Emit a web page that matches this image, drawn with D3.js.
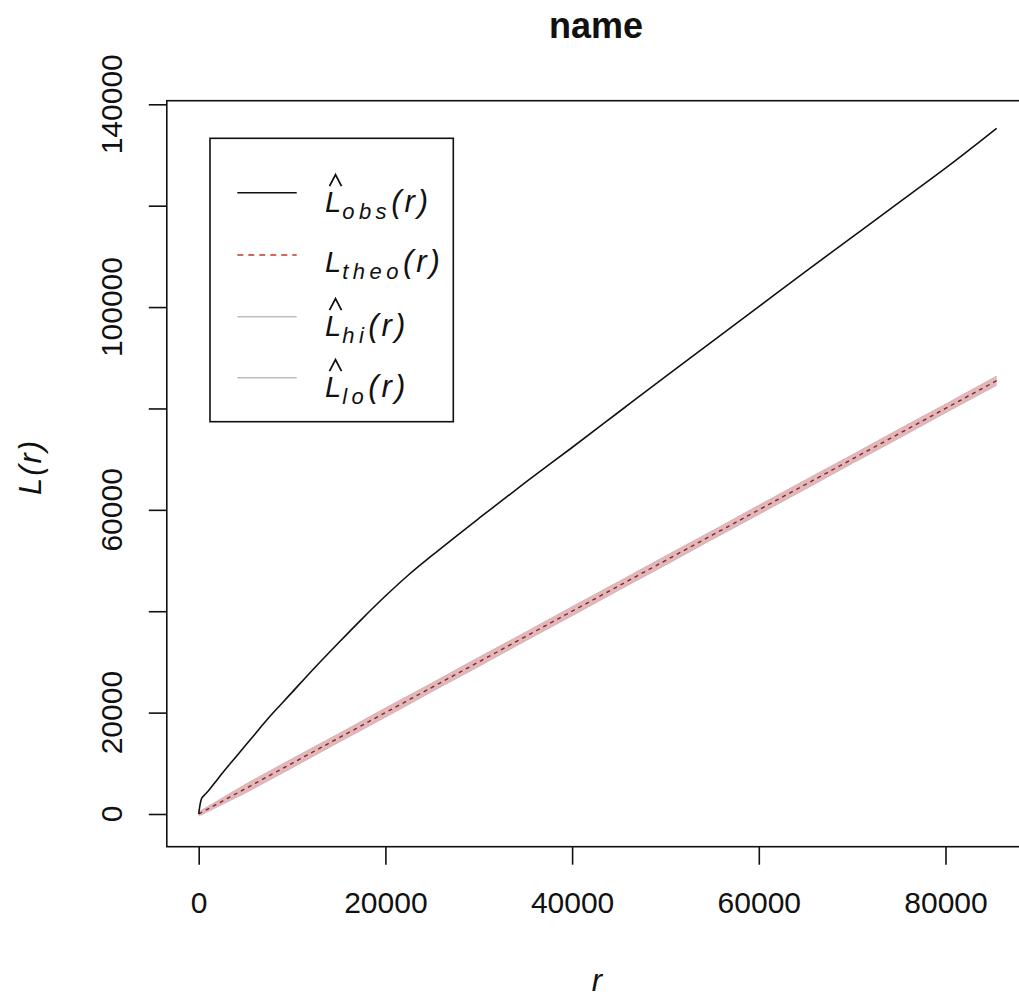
<!DOCTYPE html>
<html>
<head>
<meta charset="utf-8">
<script src="https://cdn.jsdelivr.net/npm/d3@7"></script>
<style>
  body { margin: 0; background: #fff; }
  svg { display: block; }
  text { font-family: "Liberation Sans", Arial, sans-serif; fill: #111; }
</style>
</head>
<body>
<svg id="chart" width="1019" height="998"></svg>
<script>
// Observed L-function estimate
const obsR = [0, 150, 300, 600, 1000, 1700, 2500, 3500, 5000, 6500, 7500, 9000, 10000,
  12500, 15000, 17500, 20000, 22500, 25000, 30000, 35000, 40000, 45000, 50000, 55000,
  60000, 65000, 70000, 75000, 78270, 80000, 85480];
const obsL = [0, 1900, 3000, 3700, 4500, 6100, 8000, 10200, 13500, 16800, 19000, 22000, 24000,
  29000, 33800, 38500, 43000, 47200, 51000, 58300, 65400, 72300, 79300, 86300, 93200,
  100100, 107000, 113800, 120600, 125050, 127400, 135250];

// Theoretical value and simulation envelope
const envR  = [0, 5000, 10000, 15000, 20000, 25000, 30000, 35000, 40000, 45000, 50000,
  55000, 60000, 65000, 70000, 75000, 80000, 85000, 85480];
const theoL = [0, 5000, 10000, 15000, 20000, 25000, 30000, 35000, 40000, 45000, 50000,
  55000, 60000, 65000, 70000, 75000, 80000, 85000, 85480];
const hiL = [400, 5850, 10900, 15850, 20900, 25850, 30900, 35850, 40900, 45850, 50900,
  55850, 60900, 65900, 70850, 75900, 80850, 85900, 86380];
const loL = [-400, 4150, 9100, 14150, 19100, 24150, 29100, 34150, 39100, 44150, 49100,
  54150, 59100, 64100, 69150, 74100, 79150, 84100, 84580];

const xTicks = [0, 20000, 40000, 60000, 80000];
const yTicks = [0, 20000, 40000, 60000, 80000, 100000, 120000, 140000];
const yTicksLabelled = [0, 20000, 60000, 100000, 140000];

const legendItems = [
  { main: "L", sub: "obs", hat: true,  color: "#111", dash: null, width: 1.6 },
  { main: "L", sub: "theo", hat: false, color: "#c0392b", dash: "6,5", width: 1.3 },
  { main: "L", sub: "hi", hat: true,  color: "#bdbdbd", dash: null, width: 1.5 },
  { main: "L", sub: "lo", hat: true,  color: "#bdbdbd", dash: null, width: 1.5 }
];

const svg = d3.select("#chart");
const frame = { left: 166.8, right: 1028.6, top: 100.7, bottom: 846.7 };

const x = d3.scaleLinear().domain([0, 80000]).range([198.7, 945.5]);
const y = d3.scaleLinear().domain([0, 140000]).range([814, 104.3]);

// Envelope band
const band = svg.append("g");
const envPts = envR.map((r, i) => ({ r, theo: theoL[i], hi: hiL[i], lo: loL[i] }));
band.append("path")
  .datum(envPts)
  .attr("fill", "#e4b6b9")
  .attr("d", d3.area().x(d => x(d.r)).y0(d => y(d.lo)).y1(d => y(d.hi)));
["hi", "lo"].forEach(k => {
  band.append("path")
    .datum(envPts)
    .attr("fill", "none")
    .attr("stroke", "#d6b3b5")
    .attr("stroke-width", 1)
    .attr("d", d3.line().x(d => x(d.r)).y(d => y(d[k])));
});
band.append("path")
  .datum(envPts)
  .attr("fill", "none")
  .attr("stroke", "#7a2b2b")
  .attr("stroke-width", 1.4)
  .attr("stroke-dasharray", "4,4")
  .attr("d", d3.line().x(d => x(d.r)).y(d => y(d.theo)));

// Observed curve
svg.append("path")
  .datum(obsR.map((r, i) => [r, obsL[i]]))
  .attr("fill", "none")
  .attr("stroke", "#111")
  .attr("stroke-width", 1.6)
  .attr("stroke-linejoin", "round")
  .attr("d", d3.line().curve(d3.curveMonotoneX).x(d => x(d[0])).y(d => y(d[1])));

// Plot frame
svg.append("rect")
  .attr("x", frame.left).attr("y", frame.top)
  .attr("width", frame.right - frame.left).attr("height", frame.bottom - frame.top)
  .attr("fill", "none").attr("stroke", "#111").attr("stroke-width", 1.6);

// X axis
const gx = svg.append("g")
  .attr("transform", `translate(0,${frame.bottom})`)
  .call(d3.axisBottom(x).tickValues(xTicks).tickSize(18).tickPadding(27).tickFormat(d3.format("d")));
gx.select(".domain").remove();
gx.selectAll(".tick line").attr("stroke", "#111").attr("stroke-width", 1.6);
gx.selectAll(".tick text")
  .attr("font-size", 30).attr("fill", "#222")
  .style("font-family", '"Liberation Sans", Arial, sans-serif');

// Y axis
const gy = svg.append("g")
  .attr("transform", `translate(${frame.left},0)`)
  .call(d3.axisLeft(y).tickValues(yTicks).tickSize(18).tickFormat(""));
gy.select(".domain").remove();
gy.selectAll(".tick line").attr("stroke", "#111").attr("stroke-width", 1.6);
svg.append("g").selectAll("text")
  .data(yTicksLabelled)
  .join("text")
  .attr("transform", d => `translate(122,${y(d)}) rotate(-90)`)
  .attr("text-anchor", "middle")
  .attr("font-size", 30)
  .attr("fill", "#222")
  .text(d => d3.format("d")(d));

// Title and axis titles
svg.append("text")
  .attr("x", 596).attr("y", 38)
  .attr("text-anchor", "middle")
  .attr("font-size", 36).attr("font-weight", "bold")
  .text("name");
svg.append("text")
  .attr("x", 597).attr("y", 991)
  .attr("text-anchor", "middle")
  .attr("font-size", 31).attr("font-style", "italic")
  .text("r");
svg.append("text")
  .attr("transform", "translate(41,467) rotate(-90)")
  .attr("text-anchor", "middle")
  .attr("font-size", 31).attr("font-style", "italic")
  .attr("letter-spacing", 2)
  .text("L(r)");

// Legend
const legend = svg.append("g");
legend.append("rect")
  .attr("x", 210).attr("y", 138.3).attr("width", 243.3).attr("height", 283.4)
  .attr("fill", "#fff").attr("stroke", "#111").attr("stroke-width", 1.6);
const rowY = [192.7, 255, 316.7, 377.7];
const rows = legend.selectAll("g.row")
  .data(legendItems)
  .join("g")
  .attr("class", "row")
  .attr("transform", (d, i) => `translate(0,${rowY[i]})`);
rows.append("line")
  .attr("x1", 237.3).attr("x2", 296.7)
  .attr("stroke", d => d.color)
  .attr("stroke-width", d => d.width)
  .attr("stroke-dasharray", d => d.dash);
const label = rows.append("text")
  .attr("x", 325)
  .attr("y", d => d.hat ? 19.5 : 17)
  .attr("font-size", 29)
  .attr("font-style", "italic");
label.append("tspan").text(d => d.main);
label.append("tspan")
  .attr("dy", 7).attr("dx", 1)
  .attr("font-size", 22)
  .attr("letter-spacing", 4.5)
  .text(d => d.sub);
label.append("tspan")
  .attr("dy", -7)
  .attr("font-size", 31)
  .attr("letter-spacing", 3)
  .text("(r)");
// circumflex accent drawn above the estimate symbol
rows.filter(d => d.hat).append("path")
  .attr("d", "M329.5,-6.5 L335.5,-18 L341.5,-6.5")
  .attr("fill", "none")
  .attr("stroke", "#111")
  .attr("stroke-width", 1.8);
</script>
</body>
</html>
